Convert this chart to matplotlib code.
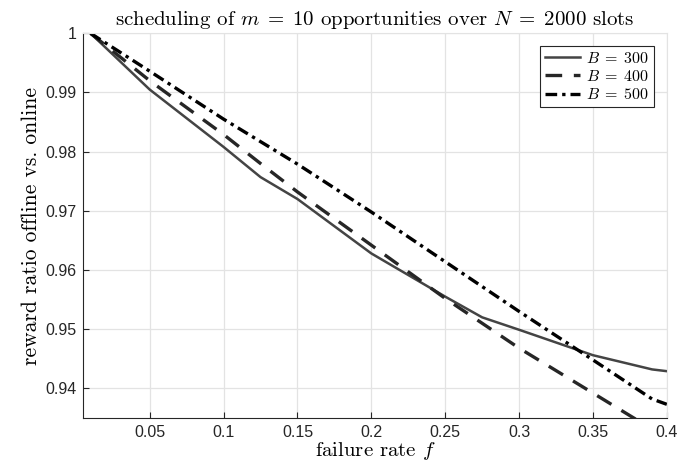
import matplotlib
matplotlib.use('Agg')
import matplotlib.pyplot as plt

# failure rates and reward ratios
f = [0.01, 0.05, 0.1, 0.125, 0.15, 0.2, 0.25, 0.275, 0.3, 0.35, 0.39, 0.4]
r300 = [1.0, 0.9905, 0.9808, 0.9757, 0.9720, 0.9628, 0.9555, 0.9520, 0.9499, 0.9456, 0.9432, 0.9429]
r400 = [1.0, 0.9920, 0.9829, 0.9780, 0.9732, 0.9642, 0.9552, 0.9510, 0.9468, 0.9392, 0.9331, 0.9316]
r500 = [1.0, 0.9936, 0.9855, 0.9817, 0.9779, 0.9698, 0.9614, 0.9572, 0.9530, 0.9448, 0.9382, 0.9373]
xticks = [0.05, 0.1, 0.15, 0.2, 0.25, 0.3, 0.35, 0.4]
xticklabels = ['0.05', '0.1', '0.15', '0.2', '0.25', '0.3', '0.35', '0.4']
yticks = [0.94, 0.95, 0.96, 0.97, 0.98, 0.99, 1.0]
yticklabels = ['0.94', '0.95', '0.96', '0.97', '0.98', '0.99', '1']

plt.rcParams['mathtext.fontset'] = 'cm'
plt.rcParams['axes.unicode_minus'] = False

fig = plt.figure(figsize=(6.99, 4.76), dpi=100)
ax = fig.add_axes([0.119, 0.122, 0.835, 0.808])

ax.plot(f, r300, color='#444444', lw=1.8, linestyle='-', label=r'$B\;=\;300$')
ax.plot(f, r400, color='#262626', lw=2.4, linestyle=(0, (5, 3.5)), label=r'$B\;=\;400$')
ax.plot(f, r500, color='#000000', lw=2.4, linestyle=(0, (3.5, 1.5, 1, 1.5)), label=r'$B\;=\;500$')

ax.set_xlim(0.005, 0.4)
ax.set_ylim(0.935, 1.0)
ax.set_xticks(xticks)
ax.set_xticklabels(xticklabels)
ax.set_yticks(yticks)
ax.set_yticklabels(yticklabels)
for lab in ax.get_xticklabels() + ax.get_yticklabels():
    lab.set_family('Liberation Sans')
    lab.set_fontsize(11.5)
    lab.set_color('#262626')

ax.grid(True, color='#e3e3e3', lw=0.9)
ax.set_axisbelow(True)
ax.tick_params(direction='in', length=4, width=0.8, colors='#262626', pad=5)
ax.spines['top'].set_color('#e3e3e3')
ax.spines['right'].set_color('#e3e3e3')
ax.spines['left'].set_color('#262626')
ax.spines['bottom'].set_color('#262626')

ax.set_title(r'scheduling of $m\;=\;10$ opportunities over $N\;=\;2000$ slots',
             family='cmr10', fontsize=15, pad=6)
ax.set_xlabel('failure rate $f$', family='cmr10', fontsize=15, labelpad=0)
ax.set_ylabel('reward ratio offline vs. online', family='cmr10', fontsize=15.5, labelpad=3)

leg = ax.legend(loc='upper right', fontsize=11.5, handlelength=2.2, handletextpad=0.35,
                borderpad=0.3, labelspacing=0.2, fancybox=False, framealpha=1,
                borderaxespad=0.8)
leg.get_frame().set_edgecolor('#262626')
leg.get_frame().set_linewidth(0.8)

fig.savefig('out.png', dpi=100)
